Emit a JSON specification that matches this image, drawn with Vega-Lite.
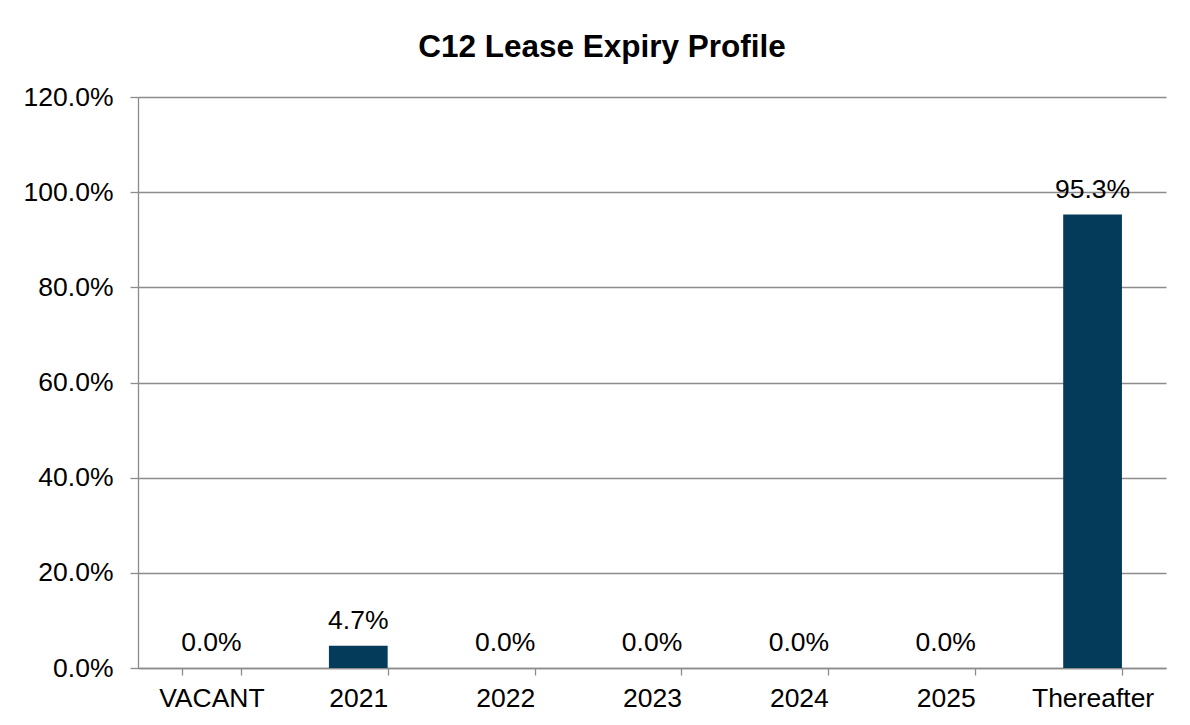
{
  "$schema": "https://vega.github.io/schema/vega-lite/v6.json",
  "autosize": "none",
  "width": 1028,
  "height": 571,
  "padding": {"left": 138, "top": 97, "right": 24, "bottom": 57},
  "background": "white",
  "title": {
    "text": "C12 Lease Expiry Profile",
    "font": "Liberation Sans",
    "fontSize": 31.5,
    "fontWeight": "bold",
    "color": "black",
    "anchor": "middle",
    "frame": "group",
    "dx": -50,
    "baseline": "alphabetic",
    "offset": -4
  },
  "data": {
    "values": [
      {"period": "VACANT", "share": 0.0},
      {"period": "2021", "share": 0.047},
      {"period": "2022", "share": 0.0},
      {"period": "2023", "share": 0.0},
      {"period": "2024", "share": 0.0},
      {"period": "2025", "share": 0.0},
      {"period": "Thereafter", "share": 0.953}
    ]
  },
  "encoding": {
    "x": {
      "field": "period",
      "type": "nominal",
      "sort": null,
      "scale": {"paddingInner": 0.6, "paddingOuter": 0.3},
      "axis": {
        "title": null,
        "labelAngle": 0,
        "labelFont": "Liberation Sans",
        "labelFontSize": 26.5,
        "labelColor": "black",
        "labelPadding": 10,
        "tickBand": "extent",
        "tickSize": 7,
        "tickColor": "#8c8c8c",
        "tickWidth": 1.3,
        "domainColor": "#8c8c8c",
        "domainWidth": 1.3,
        "grid": false
      }
    },
    "y": {
      "field": "share",
      "type": "quantitative",
      "scale": {"domain": [0, 1.2], "nice": false},
      "axis": {
        "title": null,
        "format": ".1%",
        "values": [0, 0.2, 0.4, 0.6, 0.8, 1.0, 1.2],
        "labelFont": "Liberation Sans",
        "labelFontSize": 26.5,
        "labelColor": "black",
        "labelPadding": 17,
        "tickSize": 8,
        "tickColor": "#8c8c8c",
        "tickWidth": 1.3,
        "domainColor": "#8c8c8c",
        "domainWidth": 1.3,
        "grid": true,
        "gridColor": "#8c8c8c",
        "gridWidth": 1.3
      }
    }
  },
  "layer": [
    {
      "mark": {"type": "bar", "color": "#043a5a"}
    },
    {
      "mark": {
        "type": "text",
        "font": "Liberation Sans",
        "fontSize": 26.5,
        "color": "black",
        "baseline": "alphabetic",
        "dy": -17
      },
      "encoding": {
        "text": {"field": "share", "type": "quantitative", "format": ".1%"}
      }
    }
  ],
  "config": {
    "view": {"stroke": null}
  }
}
